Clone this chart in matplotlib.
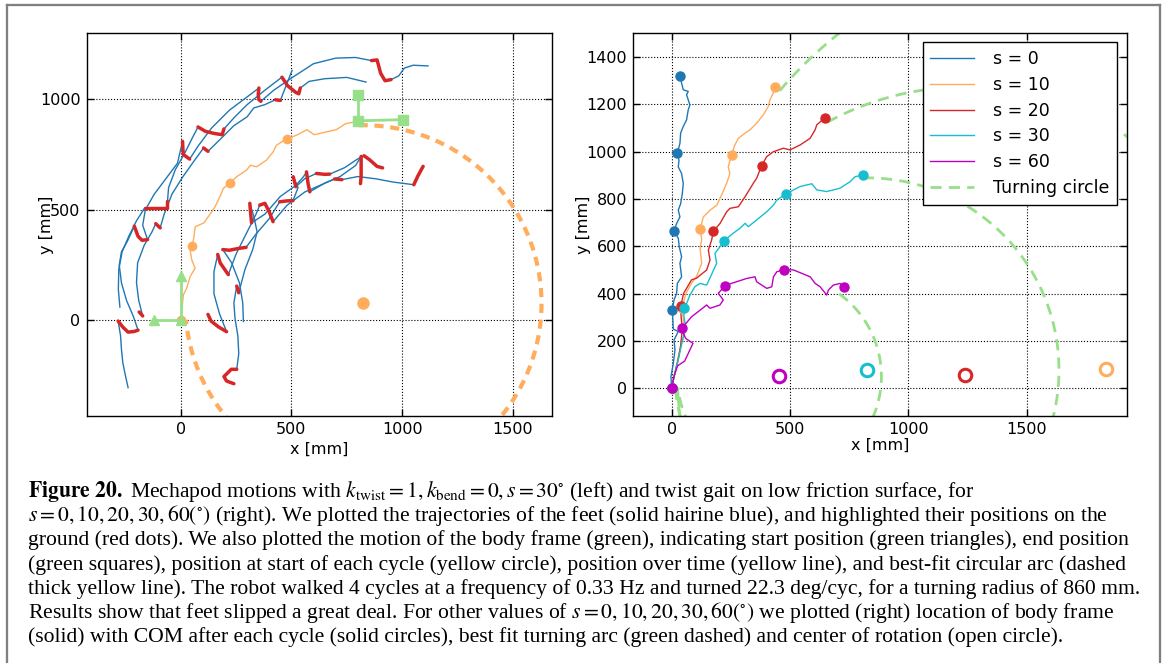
import numpy as np
import matplotlib
matplotlib.use("Agg")
import matplotlib.pyplot as plt
from matplotlib.lines import Line2D

W, H, DPI = 1165, 663, 100

# ---------------- left panel: s = 30 deg gait ----------------
# each foot: alternating swing / stance phases, points in mm
foot_1 = [
    ("swing",  [(-238, -304), (-250, -250), (-262, -190), (-268, -130), (-272, -70), (-283, -3)]),
    ("stance", [(-283, -3), (-262, -30), (-238, -53), (-210, -50), (-193, -44)]),
    ("swing",  [(-193, -44), (-215, 20), (-245, 90), (-268, 170), (-278, 250), (-268, 310), (-240, 360), (-210, 426)]),
    ("stance", [(-210, 426), (-193, 380), (-175, 362), (-150, 365)]),
    ("swing",  [(-150, 365), (-172, 430), (-160, 500), (-120, 570), (-60, 650), (-15, 710), (8, 809)]),
    ("stance", [(8, 809), (10, 770), (12, 749), (40, 729)]),
    ("swing",  [(40, 729), (80, 790), (140, 870), (220, 950), (300, 1010), (353, 1050)]),
    ("stance", [(353, 1050), (350, 1020), (353, 997), (362, 990)]),
    ("swing",  [(362, 990), (420, 1040), (500, 1095), (600, 1160), (700, 1185), (790, 1188), (862, 1174)]),
    ("stance", [(862, 1174), (887, 1177), (903, 1117), (923, 1083), (950, 1088)]),
    ("swing",  [(950, 1088), (985, 1105), (1010, 1140), (1050, 1153), (1117, 1150)]),
]
foot_2 = [
    ("swing",  [(-275, 60), (-282, 140), (-280, 230), (-265, 310), (-235, 380), (-200, 450), (-163, 508)]),
    ("stance", [(-163, 508), (-110, 508), (-60, 508), (-60, 538)]),
    ("swing",  [(-60, 538), (-55, 600), (-25, 680), (20, 760), (55, 830), (78, 874)]),
    ("stance", [(78, 874), (112, 854), (150, 845), (187, 839), (195, 865)]),
    ("swing",  [(195, 865), (240, 915), (300, 975), (380, 1040), (457, 1099)]),
    ("stance", [(457, 1099), (483, 1060), (520, 1030), (533, 1024), (540, 1050)]),
    ("swing",  [(540, 1050), (580, 1080), (650, 1092), (750, 1098), (837, 1077)]),
]
foot_3 = [
    ("stance", [(-188, 38), (-172, 20)]),
    ("swing",  [(-172, 20), (-190, 90), (-200, 170), (-195, 260), (-165, 340), (-130, 400), (-113, 437)]),
    ("stance", [(-113, 437), (-93, 418)]),
    ("swing",  [(-93, 418), (-75, 480), (-40, 570), (10, 650), (60, 720), (103, 779)]),
    ("stance", [(103, 779), (123, 764)]),
    ("swing",  [(123, 764), (180, 820), (240, 880), (300, 920), (330, 960), (380, 975), (428, 997)]),
    ("stance", [(428, 997), (450, 994)]),
    ("swing",  [(450, 994), (503, 1130)]),
]
foot_4 = [
    ("stance", [(240, -286), (207, -274), (195, -254), (228, -221), (253, -221)]),
    ("swing",  [(253, -221), (262, -150), (258, -70), (245, 10), (240, 80), (253, 155)]),
    ("stance", [(253, 155), (262, 125)]),
    ("swing",  [(262, 125), (290, 230), (325, 320), (345, 400), (330, 470), (312, 529)]),
    ("stance", [(312, 529), (315, 490), (320, 441)]),
    ("swing",  [(320, 441), (380, 480), (450, 560), (520, 610), (555, 650), (568, 671)]),
    ("stance", [(568, 671), (575, 620), (583, 581)]),
    ("swing",  [(583, 581), (650, 620), (720, 650), (790, 700), (815, 741)]),
    ("stance", [(815, 741), (815, 651), (812, 618)]),
]
foot_5 = [
    ("stance", [(123, 27), (137, -3), (170, -29), (207, -51)]),
    ("swing",  [(207, -51), (175, 30), (150, 120), (150, 220), (167, 298)]),
    ("stance", [(167, 298), (178, 260), (207, 218), (215, 207)]),
    ("swing",  [(215, 207), (250, 300), (300, 400), (340, 480), (357, 521)]),
    ("stance", [(357, 521), (380, 529), (400, 490), (417, 446)]),
    ("swing",  [(417, 446), (480, 520), (560, 580), (640, 615), (695, 639)]),
    ("stance", [(695, 639), (728, 636)]),
    ("swing",  [(728, 636), (800, 650), (880, 640), (960, 625), (1053, 613)]),
    ("stance", [(1053, 613), (1070, 650), (1095, 696)]),
]
foot_6 = [
    ("swing",  [(283, -5), (280, 80), (265, 170), (230, 260), (190, 320)]),
    ("stance", [(190, 320), (220, 317), (260, 325), (295, 330)]),
    ("swing",  [(295, 330), (340, 390), (400, 460), (447, 536)]),
    ("stance", [(447, 536), (480, 540), (507, 541)]),
    ("swing",  [(507, 541), (530, 600), (508, 649)]),
    ("stance", [(508, 649), (520, 604)]),
    ("swing",  [(520, 604), (560, 640), (613, 664)]),
    ("stance", [(613, 664), (650, 660), (673, 661)]),
    ("swing",  [(673, 661), (740, 690), (800, 730), (828, 744)]),
    ("stance", [(828, 744), (853, 726), (887, 696), (912, 689)]),
]
feet = [foot_1, foot_2, foot_3, foot_4, foot_5, foot_6]

# body centre over time and at the start of each cycle
com_x = [0, 5, 12, 27, 42, 65, 50, 42, 52, 60, 65, 105, 140, 155, 177, 192, 221, 252, 297,
         315, 342, 387, 417, 432, 455, 480, 530, 570, 603, 637, 703, 745, 795, 803]
com_y = [0, 50, 116, 146, 198, 236, 273, 318, 336, 380, 423, 441, 491, 514, 559, 596, 620,
         649, 679, 701, 694, 724, 761, 791, 806, 820, 840, 862, 839, 847, 862, 889, 899, 902]
cycle_x = [0, 52, 221, 480]
cycle_y = [0, 336, 620, 820]
arc_center = (825, 77)
arc_radius = 805

# body frame axes at start (triangles) and end (squares)
frame_start_x = [-120, 0, 0]
frame_start_y = [0, 0, 200]
frame_end_x = [803, 803, 1003]
frame_end_y = [1017, 902, 907]

# ---------------- right panel: twist gait, several s ----------------
s_labels = ["s = 0", "s = 10", "s = 20", "s = 30", "s = 60"]
s_colors = ["#1f77b4", "#ffad5c", "#d62728", "#17becf", "#c000c0"]

path_s0 = [(0, 0), (-3, 49), (7, 105), (14, 162), (10, 204), (28, 240), (7, 250), (3, 331),
           (10, 373), (21, 401), (24, 443), (42, 471), (35, 528), (42, 556), (32, 598), (28, 634),
           (10, 665), (21, 696), (35, 724), (28, 752), (38, 780), (45, 822), (49, 865), (42, 907),
           (28, 935), (31, 963), (24, 993), (35, 1035), (38, 1078), (49, 1106), (63, 1134),
           (70, 1176), (77, 1197), (63, 1240), (70, 1254), (49, 1261), (42, 1289), (35, 1320)]
path_s10 = [(0, 0), (12, 60), (25, 120), (40, 180), (55, 230), (50, 280), (45, 340), (60, 400),
            (84, 444), (105, 472), (127, 528), (120, 592), (127, 627), (120, 673), (134, 724),
            (162, 752), (190, 773), (204, 801), (232, 865), (246, 907), (239, 935), (253, 986),
            (267, 1028), (282, 1056), (310, 1078), (331, 1092), (359, 1120), (387, 1155),
            (408, 1190), (415, 1218), (429, 1247), (436, 1274)]
path_s20 = [(0, 0), (10, 50), (25, 110), (38, 180), (45, 250), (40, 300), (39, 348), (50, 400),
            (84, 458), (105, 465), (148, 500), (162, 542), (155, 584), (169, 627), (176, 663),
            (204, 696), (232, 745), (246, 760), (282, 767), (310, 809), (345, 866), (359, 887),
            (380, 940), (401, 978), (429, 999), (472, 1014), (500, 1007), (543, 1028),
            (585, 1056), (606, 1092), (613, 1113), (648, 1143)]
path_s30 = [(0, 0), (15, 70), (30, 130), (45, 200), (60, 260), (52, 300), (52, 338), (63, 358),
            (77, 393), (98, 429), (120, 443), (148, 436), (190, 528), (183, 570), (204, 598),
            (222, 624), (260, 655), (289, 676), (310, 697), (324, 683), (359, 711), (402, 746),
            (430, 774), (444, 795), (483, 821), (542, 852), (592, 864), (613, 838), (655, 831),
            (711, 845), (754, 873), (775, 894), (807, 900)]
path_s60 = [(0, 0), (10, 50), (25, 95), (55, 115), (90, 190), (60, 210), (50, 230), (45, 256),
            (84, 302), (120, 330), (148, 352), (162, 338), (204, 352), (218, 373), (197, 401),
            (225, 434), (274, 450), (317, 464), (352, 471), (359, 450), (402, 422), (423, 429),
            (430, 471), (444, 492), (473, 501), (514, 500), (585, 471), (606, 443), (627, 429),
            (655, 394), (662, 415), (683, 436), (711, 443), (729, 429)]
paths = [path_s0, path_s10, path_s20, path_s30, path_s60]

dots_s0 = [(0, 0), (3, 331), (10, 665), (24, 993), (35, 1320)]
dots_s10 = [(0, 0), (45, 340), (120, 673), (253, 986), (436, 1274)]
dots_s20 = [(0, 0), (39, 348), (176, 663), (380, 940), (648, 1143)]
dots_s30 = [(0, 0), (52, 338), (222, 624), (483, 821), (807, 900)]
dots_s60 = [(0, 0), (45, 256), (225, 434), (473, 501), (729, 429)]
cycle_dots = [dots_s0, dots_s10, dots_s20, dots_s30, dots_s60]

# fitted turning circles (no fit for s = 0)
turn_centers = [None, (1833, 82), (1241, 56), (824, 77), (455, 50)]
turn_radii = [None, 1810, 1217, 812, 431]

caption_lines = [
    r"$\mathbf{Figure\ 20.}$ Mechapod motions with $k_{\rm twist} = 1, k_{\rm bend} = 0, s = 30^{\circ}$ (left) and twist gait on low friction surface, for",
    r"$s = 0, 10, 20, 30, 60(^{\circ})$ (right). We plotted the trajectories of the feet (solid hairine blue), and highlighted their positions on the",
    "ground (red dots). We also plotted the motion of the body frame (green), indicating start position (green triangles), end position",
    "(green squares), position at start of each cycle (yellow circle), position over time (yellow line), and best-fit circular arc (dashed",
    "thick yellow line). The robot walked 4 cycles at a frequency of 0.33 Hz and turned 22.3 deg/cyc, for a turning radius of 860 mm.",
    r"Results show that feet slipped a great deal. For other values of $s = 0, 10, 20, 30, 60(^{\circ})$ we plotted (right) location of body frame",
    "(solid) with COM after each cycle (solid circles), best fit turning arc (green dashed) and center of rotation (open circle).",
]

GREEN = "#98df8a"
ORANGE = "#ffad5c"


def clockwise_arc(center, radius, p_from, p_to, n=600):
    cx, cy = center
    a0 = np.arctan2(p_from[1] - cy, p_from[0] - cx)
    a1 = np.arctan2(p_to[1] - cy, p_to[0] - cx)
    while a1 > a0:
        a1 -= 2 * np.pi
    t = np.linspace(a0, a1, n)
    return cx + radius * np.cos(t), cy + radius * np.sin(t)


def style_axes(ax):
    ax.tick_params(direction="in", top=True, right=True, length=5, width=1,
                   labelsize=11.5, pad=4.5)
    ax.grid(True, color="black", linestyle=":", linewidth=0.8)
    ax.set_axisbelow(True)
    for sp in ax.spines.values():
        sp.set_linewidth(1.0)
        sp.set_color("black")


plt.rcParams["mathtext.fontset"] = "stix"
fig = plt.figure(figsize=(W / DPI, H / DPI), dpi=DPI)
fig.patch.set_facecolor("white")


def px_rect(x0, x1, ytop, ybot):
    return [x0 / W, 1 - ybot / H, (x1 - x0) / W, (ybot - ytop) / H]


# ---- left axes ----
axL = fig.add_axes(px_rect(86.7, 551.7, 32.7, 416))
style_axes(axL)
for foot in feet:
    pts = []
    for phase, seg in foot:
        pts.extend(seg if not pts else seg[1:] if seg[0] == pts[-1] else seg)
    xs, ys = zip(*pts)
    axL.plot(xs, ys, color="#1f77b4", lw=1.0, zorder=2)
for foot in feet:
    for phase, seg in foot:
        if phase == "stance":
            xs, ys = zip(*seg)
            axL.plot(xs, ys, color="#d62728", lw=2.5, solid_capstyle="round",
                     solid_joinstyle="round", zorder=3)

ax_arc, ay_arc = clockwise_arc(arc_center, arc_radius, (com_x[-1], com_y[-1]), (com_x[0], com_y[0]))
axL.plot(ax_arc, ay_arc, color=ORANGE, lw=3.0, dashes=(2.2, 1.6), zorder=2)
axL.plot(com_x, com_y, color=ORANGE, lw=1.0, zorder=3)
axL.plot(cycle_x, cycle_y, "o", color=ORANGE, ms=6, mec=ORANGE, zorder=4)
axL.plot([arc_center[0]], [arc_center[1]], "o", color=ORANGE, ms=8, mec=ORANGE, zorder=4)
axL.plot(frame_start_x, frame_start_y, color=GREEN, lw=2, zorder=5)
axL.plot(frame_start_x, frame_start_y, "^", color=GREEN, ms=7, mec=GREEN, zorder=5)
axL.plot(frame_end_x, frame_end_y, color=GREEN, lw=2, zorder=5)
axL.plot(frame_end_x, frame_end_y, "s", color=GREEN, ms=6.5, mec=GREEN, zorder=5)

axL.set_xlim(-425, 1676)
axL.set_ylim(-432, 1300)
axL.set_xticks([0, 500, 1000, 1500])
axL.set_yticks([0, 500, 1000])
axL.set_xlabel("x [mm]", fontsize=11.5)
axL.set_ylabel("y [mm]", fontsize=11.5)
axL.xaxis.set_label_coords(0.5, -0.067)
axL.yaxis.set_label_coords(-0.071, 0.5)

# ---- right axes ----
axR = fig.add_axes(px_rect(633.3, 1126.7, 32.7, 416))
style_axes(axR)
for k in range(len(paths)):
    if turn_centers[k] is None:
        continue
    end_pt = cycle_dots[k][-1]
    start_pt = cycle_dots[k][0]
    cx_, cy_ = clockwise_arc(turn_centers[k], turn_radii[k], end_pt, start_pt)
    axR.plot(cx_, cy_, color=GREEN, lw=2.0, dashes=(4.0, 2.6), zorder=1)
for k in range(len(paths)):
    xs, ys = zip(*paths[k])
    axR.plot(xs, ys, color=s_colors[k], lw=1.0, zorder=2, label=s_labels[k])
for k in range(len(paths)):
    xs, ys = zip(*cycle_dots[k])
    axR.plot(xs, ys, "o", color=s_colors[k], mec=s_colors[k], ms=6.5, zorder=3)
    if turn_centers[k] is not None:
        axR.plot([turn_centers[k][0]], [turn_centers[k][1]], "o", mfc="none",
                 mec=s_colors[k], ms=9, mew=2.2, zorder=3)
axR.plot([], [], color=GREEN, lw=2.0, dashes=(4.0, 2.6), label="Turning circle")

axR.set_xlim(-162, 1922)
axR.set_ylim(-117, 1502)
axR.set_xticks([0, 500, 1000, 1500])
axR.set_yticks(range(0, 1401, 200))
axR.set_xlabel("x [mm]", fontsize=11.5)
axR.set_ylabel("y [mm]", fontsize=11.5)
axR.xaxis.set_label_coords(0.5, -0.057)
axR.yaxis.set_label_coords(-0.0857, 0.5)
leg = axR.legend(loc="upper right", fontsize=12.5, handlelength=2.5, handletextpad=1.1,
                 labelspacing=0.45, borderpad=0.45, borderaxespad=0.55, fancybox=False,
                 framealpha=1, edgecolor="black")
leg.get_frame().set_linewidth(1.0)
leg.set_zorder(10)

# ---- surrounding frame ----
frame_col = "#808080"
fr_lw = 2.3 * 72 / DPI
for (x0, y0, x1, y1) in [(7, 5, 7, H), (7, 5, 1159.8, 5), (1159.8, 5, 1159.8, H)]:
    fig.add_artist(Line2D([x0 / W, x1 / W], [1 - y0 / H, 1 - y1 / H], color=frame_col,
                          lw=fr_lw, transform=fig.transFigure, solid_capstyle="projecting"))

# ---- caption ----
cap_texts = []
for i, line in enumerate(caption_lines):
    t = fig.text(28 / W, 1 - (497 + 24.17 * i) / H, line, fontsize=13,
                 family="Liberation Serif", va="baseline", ha="left")
    cap_texts.append(t)
fig.canvas.draw()
renderer = fig.canvas.get_renderer()
width5 = cap_texts[4].get_window_extent(renderer).width
scale = 1109.0 / width5
for t in cap_texts:
    t.set_fontsize(13 * scale)

fig.savefig("out.png", dpi=DPI, facecolor="white")
